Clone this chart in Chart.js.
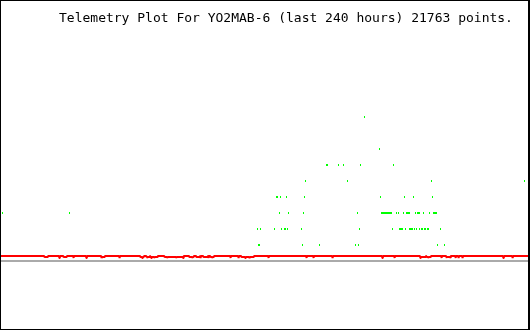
<!DOCTYPE html>
<html>
<head>
<meta charset="utf-8">
<script src="https://cdn.jsdelivr.net/npm/chart.js@4/dist/chart.umd.min.js"></script>
<style>
  html, body { margin: 0; padding: 0; background: #fff; }
  #frame { position: absolute; left: 0; top: 0; width: 530px; height: 330px; box-sizing: border-box;
           border: 1px solid #000; border-right-width: 2px; background: #fff; }
  #wrap { position: relative; width: 527px; height: 328px; }
</style>
</head>
<body>
<div id="frame"><div id="wrap"><canvas id="c"></canvas></div></div>
<script>
// ---- data (x = hours into the 240 h window, y = telemetry level) ----
const titleText = "Telemetry Plot For YO2MAB-6 (last 240 hours) 21763 points.";
const hoursMin = 0, hoursMax = 240;

const level1Hours = [117.3, 117.7, 137.3, 145.0, 161.4, 162.8, 198.8, 202.0];
const level2Hours = [116.8, 118.2, 124.6, 127.7, 129.1, 129.6, 130.5, 136.8, 163.3, 178.3, 181.5, 182.0, 182.4, 182.9,
                     184.2, 186.0, 186.5, 187.0, 187.4, 188.3, 189.2, 190.6, 191.5, 192.0, 192.9, 193.3, 194.2, 194.7, 200.2];
const level3Hours = [0.7, 31.2, 126.8, 130.9, 137.8, 162.4, 173.3, 173.7, 174.2, 174.7, 175.1, 175.6, 176.0, 176.5,
                     176.9, 177.4, 177.9, 180.1, 181.0, 183.3, 184.7, 185.1, 185.6, 186.0, 188.8, 189.7, 190.1, 190.6,
                     192.4, 195.1, 197.0, 197.4, 197.9, 198.3];
const level4Hours = [125.5, 125.9, 127.3, 130.0, 138.2, 172.8, 183.8, 187.9, 196.5];
const level5Hours = [138.7, 157.8, 196.1, 238.4];
const level6Hours = [148.2, 148.7, 153.7, 156.0, 163.7, 178.8];
const level7Hours = [172.4];
const level9Hours = [165.5];

const baselineHours = [0, 240];
const baselineValues = [0, 0];

const redHours = [0,
  19.6, 19.8, 21.2, 21.4,
  26.4, 26.6, 26.8,
  28.3, 28.5, 29.8, 30.0,
  32.8, 33.0, 33.2,
  38.7, 38.9, 39.1,
  45.6, 45.8, 46.0, 47.1, 47.3,
  53.8, 54.0, 54.2,
  63.3, 63.5, 64.2, 64.4, 64.6, 64.9, 65.1,
  66.1, 66.3, 66.5, 66.7, 66.9, 67.6, 67.8,
  67.9, 68.1, 68.3, 68.5, 68.7, 69.7, 69.9, 70.1, 71.3, 71.5,
  74.3, 74.5, 75.6, 75.8, 76.0, 79.7, 79.9, 80.1, 82.8, 83.0, 83.2,
  85.6, 85.8, 87.0, 87.2, 87.4, 87.7, 87.9,
  88.8, 89.0, 90.4, 90.6,
  90.7, 90.9, 91.1,
  92.0, 92.2, 94.0, 94.2,
  94.3, 94.5, 94.7,
  95.2, 95.4, 96.1, 96.3, 96.5, 96.8, 97.0,
  104.3, 104.5, 104.7,
  108.0, 108.2, 108.4,
  109.3, 109.5, 111.1, 111.3, 111.5, 113.0, 113.2, 113.4, 115.0, 115.2,
  121.6, 121.8, 122.0,
  138.9, 139.1, 139.3,
  142.1, 142.3, 142.5,
  150.8, 151.0, 151.2,
  173.5, 173.7, 173.9,
  179.0, 179.2, 179.4,
  190.8, 191.0, 191.2, 193.3, 193.5,
  193.6, 193.8, 194.5, 194.7, 194.9, 195.6, 195.8,
  200.4, 200.6, 200.8,
  202.7, 202.9, 203.1, 204.5, 204.7, 204.9,
  206.8, 207.0, 207.2,
  208.2, 208.4, 208.6,
  210.0, 210.2, 210.4,
  228.6, 228.8, 229.0,
  232.8, 233.0, 233.2,
  240];
const redValues = [0.3125,
  0.3125, 0.25, 0.25, 0.3125,
  0.3125, 0.1875, 0.3125,
  0.3125, 0.25, 0.25, 0.3125,
  0.3125, 0.1875, 0.3125,
  0.3125, 0.1875, 0.3125,
  0.3125, 0.1875, 0.25, 0.25, 0.3125,
  0.3125, 0.1875, 0.3125,
  0.3125, 0.25, 0.25, 0.1875, 0.25, 0.25, 0.3125,
  0.3125, 0.25, 0.25, 0.1875, 0.25, 0.25, 0.3125,
  0.3125, 0.25, 0.25, 0.1875, 0.25, 0.25, 0.1875, 0.25, 0.25, 0.3125,
  0.3125, 0.25, 0.25, 0.1875, 0.25, 0.25, 0.1875, 0.25, 0.25, 0.1875, 0.3125,
  0.3125, 0.25, 0.25, 0.1875, 0.25, 0.25, 0.3125,
  0.3125, 0.25, 0.25, 0.3125,
  0.3125, 0.1875, 0.3125,
  0.3125, 0.25, 0.25, 0.3125,
  0.3125, 0.1875, 0.3125,
  0.3125, 0.25, 0.25, 0.1875, 0.25, 0.25, 0.3125,
  0.3125, 0.1875, 0.3125,
  0.3125, 0.1875, 0.3125,
  0.3125, 0.25, 0.25, 0.1875, 0.25, 0.25, 0.1875, 0.25, 0.25, 0.3125,
  0.3125, 0.1875, 0.3125,
  0.3125, 0.1875, 0.3125,
  0.3125, 0.1875, 0.3125,
  0.3125, 0.1875, 0.3125,
  0.3125, 0.1875, 0.3125,
  0.3125, 0.1875, 0.3125,
  0.3125, 0.1875, 0.25, 0.25, 0.3125,
  0.3125, 0.25, 0.25, 0.1875, 0.25, 0.25, 0.3125,
  0.3125, 0.1875, 0.3125,
  0.3125, 0.1875, 0.25, 0.25, 0.1875, 0.3125,
  0.3125, 0.1875, 0.3125,
  0.3125, 0.1875, 0.3125,
  0.3125, 0.1875, 0.3125,
  0.3125, 0.1875, 0.3125,
  0.3125, 0.1875, 0.3125,
  0.3125];

const levelMin = -4.25, levelMax = 16.25;

// ---- build datasets ----
const greenLevels = [[1, level1Hours], [2, level2Hours], [3, level3Hours], [4, level4Hours],
                     [5, level5Hours], [6, level6Hours], [7, level7Hours], [9, level9Hours]];
const greenData = [];
greenLevels.forEach(([lvl, hrs]) => hrs.forEach(h => greenData.push({ x: h, y: lvl })));
const redData = redHours.map((h, i) => ({ x: h, y: redValues[i] }));
const baseData = baselineHours.map((h, i) => ({ x: h, y: baselineValues[i] }));

const dot = document.createElement('canvas');
dot.width = 1; dot.height = 2;
const dctx = dot.getContext('2d');
dctx.fillStyle = '#00ff00';
dctx.fillRect(0, 0, 1, 2);

const crisp = {
  id: 'crisp',
  beforeDatasetsDraw(chart) { chart.ctx.imageSmoothingEnabled = false; }
};
const titleDraw = {
  id: 'titleDraw',
  afterDraw(chart) {
    const ctx = chart.ctx;
    ctx.save();
    ctx.fillStyle = '#000';
    ctx.font = '13px "DejaVu Sans Mono", monospace';
    ctx.textBaseline = 'alphabetic';
    ctx.textAlign = 'left';
    ctx.fillText(titleText, 58, 21);
    ctx.restore();
  }
};

new Chart(document.getElementById('c'), {
  type: 'scatter',
  data: {
    datasets: [
      { data: greenData, pointStyle: dot, pointRadius: 1, hoverRadius: 1, showLine: false, borderWidth: 0 },
      { data: redData, showLine: true, borderColor: '#ff0000', borderWidth: 2, borderJoinStyle: 'bevel',
        pointRadius: 0, hoverRadius: 0, fill: false, tension: 0 },
      { data: baseData, showLine: true, borderColor: '#aaaaaa', borderWidth: 2, pointRadius: 0, hoverRadius: 0, fill: false }
    ]
  },
  options: {
    responsive: true,
    maintainAspectRatio: false,
    animation: false,
    events: [],
    layout: { padding: 0, autoPadding: false },
    scales: {
      x: { type: 'linear', min: hoursMin, max: hoursMax, display: false },
      y: { type: 'linear', min: levelMin, max: levelMax, display: false }
    },
    plugins: { legend: { display: false }, tooltip: { enabled: false }, title: { display: false } }
  },
  plugins: [crisp, titleDraw]
});
</script>
</body>
</html>
